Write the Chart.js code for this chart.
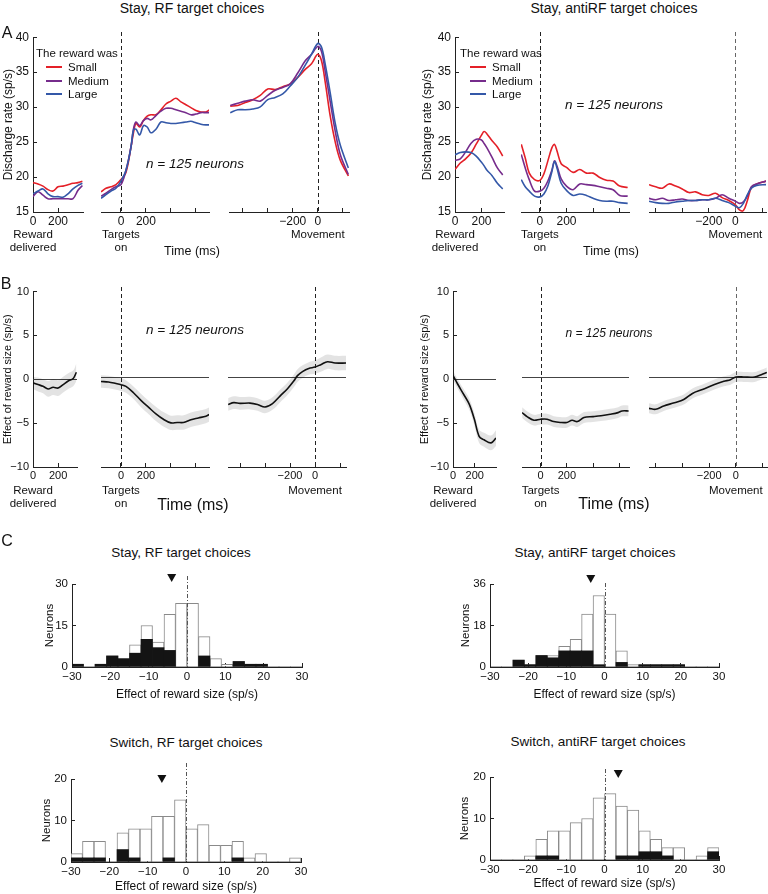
<!DOCTYPE html>
<html>
<head>
<meta charset="utf-8">
<script src="https://cdn.jsdelivr.net/npm/chart.js@4.4.1/dist/chart.umd.min.js"></script>
<style>
html, body { margin: 0; overflow: hidden; }
body { width: 768px; height: 894px; position: relative; background: #fff; font-family: "Liberation Sans", Arial, sans-serif; }
canvas { position: absolute; }
.t { position: absolute; white-space: nowrap; color: #111; text-align: center; }
.leg { position: absolute; width: 16px; height: 0; border-top: 2px solid; }
</style>
</head>
<body>
<script>
// ---- A: discharge rate, three reward sizes ----
var aL_t1 = [0, 40, 80, 120, 160, 200, 240, 280, 320, 360, 395];
var aL_small1 = [19.2, 19.0, 18.7, 18.2, 18.0, 18.6, 18.7, 18.9, 19.1, 19.2, 19.4];
var aL_medium1 = [17.2, 17.9, 17.4, 16.9, 16.9, 16.9, 16.9, 16.9, 16.9, 18.1, 18.8];
var aL_large1 = [17.6, 18.0, 18.3, 17.6, 17.2, 17.2, 17.1, 17.6, 18.3, 18.8, 19.1];

var aL_t2 = [-160, -120, -80, -40, 0, 40, 80, 100, 120, 150, 180, 210, 240, 280, 320, 360, 400, 440, 480, 520, 560, 600, 640, 680, 710];
var aL_small2 = [17.8, 18.3, 18.5, 18.8, 19.5, 20.5, 24.0, 26.0, 27.3, 26.8, 27.7, 28.3, 28.5, 28.5, 29.2, 30.0, 30.4, 30.8, 30.3, 29.9, 29.5, 29.1, 28.9, 28.9, 29.2];
var aL_medium2 = [17.2, 17.6, 18.1, 18.5, 18.8, 20.8, 24.0, 26.5, 27.5, 27.0, 27.7, 28.0, 27.8, 28.4, 29.0, 29.4, 29.4, 29.2, 29.0, 28.8, 28.5, 28.6, 28.8, 28.8, 28.8];
var aL_large2 = [16.9, 17.4, 17.9, 18.3, 19.3, 20.8, 24.0, 26.4, 26.5, 25.7, 27.0, 26.8, 26.0, 26.5, 27.5, 27.4, 27.3, 27.3, 27.4, 27.5, 27.6, 27.4, 27.2, 27.1, 27.1];

var aL_t3 = [-700, -640, -580, -520, -460, -400, -340, -280, -220, -160, -100, -50, 0, 30, 60, 100, 140, 180, 245];
var aL_small3 = [29.7, 29.8, 30.2, 30.6, 31.2, 32.1, 32.0, 32.4, 32.8, 33.7, 34.8, 35.6, 36.9, 36.0, 33.0, 28.3, 24.7, 22.2, 20.0];
var aL_medium3 = [29.8, 30.1, 30.4, 30.6, 30.4, 31.2, 31.9, 32.3, 32.8, 34.3, 36.0, 36.9, 38.0, 37.3, 34.5, 30.3, 26.2, 23.0, 20.2];
var aL_large3 = [28.8, 29.2, 29.2, 29.3, 29.6, 30.6, 30.9, 31.4, 32.5, 33.7, 35.4, 36.9, 38.4, 37.9, 35.5, 31.5, 27.3, 24.3, 21.1];

var aR_t1 = [0, 40, 80, 120, 160, 200, 220, 240, 280, 320, 360];
var aR_small1 = [21.1, 22.0, 22.6, 23.4, 24.7, 26.0, 26.5, 26.2, 25.2, 24.3, 23.0];
var aR_medium1 = [22.4, 22.6, 23.6, 24.8, 25.4, 25.3, 24.8, 24.2, 22.8, 21.3, 20.3];
var aR_large1 = [23.2, 23.5, 23.6, 23.5, 23.0, 22.1, 21.6, 21.0, 20.2, 19.1, 18.3];

var aR_t2 = [-140, -110, -80, -40, 0, 30, 60, 90, 110, 130, 160, 200, 250, 300, 350, 400, 450, 500, 550, 600, 660];
var aR_small2 = [24.4, 22.5, 20.4, 19.5, 19.4, 20.3, 22.1, 23.9, 24.4, 23.4, 21.7, 21.2, 20.5, 20.9, 20.4, 20.4, 19.8, 19.4, 19.3, 18.6, 18.4];
var aR_medium2 = [23.0, 21.1, 19.5, 17.9, 17.9, 18.3, 19.3, 20.8, 22.1, 21.3, 19.6, 18.6, 18.1, 18.9, 18.8, 18.7, 18.5, 18.3, 18.1, 17.3, 17.2];
var aR_large2 = [19.5, 18.5, 17.9, 17.2, 17.1, 17.5, 18.6, 20.6, 22.0, 21.0, 19.0, 18.0, 17.3, 17.5, 17.3, 16.9, 16.6, 16.5, 16.5, 16.3, 16.2];

var aR_t3 = [-650, -600, -550, -500, -450, -400, -350, -300, -250, -200, -150, -100, -50, 0, 30, 60, 90, 120, 160, 230];
var aR_small3 = [18.8, 18.5, 18.3, 18.9, 18.6, 18.2, 17.7, 17.8, 17.4, 17.3, 17.6, 17.0, 16.6, 16.0, 15.3, 15.2, 16.6, 18.4, 18.9, 19.3];
var aR_medium3 = [16.9, 16.7, 16.9, 16.6, 16.7, 16.8, 16.6, 16.6, 16.7, 16.7, 16.9, 17.4, 16.9, 16.5, 16.2, 16.4, 17.2, 18.5, 18.9, 19.3];
var aR_large3 = [16.5, 16.3, 16.2, 16.2, 16.4, 16.5, 16.6, 16.6, 16.7, 16.7, 16.9, 16.6, 16.3, 15.8, 15.6, 16.2, 17.4, 18.3, 18.7, 18.8];

// ---- B: effect of reward size, mean and sem ----
var bL_t1 = [0, 40, 80, 120, 160, 200, 240, 280, 320, 345];
var bL_mean1 = [-0.4, -0.6, -0.8, -1.1, -0.9, -1.0, -0.6, -0.2, 0.1, 0.8];
var bL_sem1 = [0.7, 0.8, 0.8, 0.9, 0.9, 0.9, 0.9, 0.9, 0.9, 1.0];

var bL_t2 = [-160, -100, -40, 0, 40, 100, 160, 220, 280, 340, 400, 450, 500, 560, 620, 680, 710];
var bL_mean2 = [-0.5, -0.55, -0.72, -0.85, -1.05, -1.75, -2.6, -3.35, -4.1, -4.7, -5.1, -5.05, -5.05, -4.75, -4.55, -4.35, -4.15];
var bL_sem2 = [0.7, 0.7, 0.7, 0.7, 0.7, 0.7, 0.75, 0.75, 0.8, 0.8, 0.8, 0.8, 0.8, 0.8, 0.8, 0.8, 0.8];

var bL_t3 = [-695, -650, -600, -520, -460, -400, -340, -280, -220, -170, -140, -100, -50, 0, 50, 100, 160, 250];
var bL_mean3 = [-3.05, -2.85, -2.93, -2.9, -3.05, -3.33, -2.95, -2.12, -1.3, -0.45, 0.15, 0.6, 0.95, 1.1, 1.4, 1.7, 1.55, 1.55];
var bL_sem3 = [0.7, 0.7, 0.7, 0.7, 0.7, 0.7, 0.7, 0.7, 0.7, 0.7, 0.7, 0.7, 0.7, 0.75, 0.8, 0.8, 0.8, 0.8];

var bR_t1 = [0, 40, 100, 150, 195, 240, 285, 350, 395];
var bR_mean1 = [0.44, -0.48, -1.76, -2.86, -4.5, -6.5, -6.9, -7.25, -6.7];
var bR_sem1 = [0.5, 0.55, 0.6, 0.65, 0.7, 0.75, 0.8, 0.85, 0.9];

var bR_t2 = [-140, -100, -50, 0, 50, 100, 150, 200, 240, 280, 330, 400, 460, 530, 590, 620, 670];
var bR_mean2 = [-3.96, -4.43, -4.8, -4.69, -4.69, -4.95, -5.05, -5.05, -4.8, -4.95, -4.5, -4.4, -4.3, -4.14, -3.96, -3.77, -3.77];
var bR_sem2 = [0.6, 0.6, 0.6, 0.6, 0.6, 0.6, 0.6, 0.6, 0.6, 0.6, 0.6, 0.6, 0.6, 0.6, 0.6, 0.6, 0.6];

var bR_t3 = [-650, -600, -540, -460, -390, -325, -250, -160, -90, -40, 0, 60, 140, 190, 232];
var bR_mean3 = [-3.48, -3.59, -3.22, -2.86, -2.5, -1.83, -1.39, -0.84, -0.48, -0.3, 0, 0, 0, 0.26, 0.51];
var bR_sem3 = [0.55, 0.55, 0.55, 0.55, 0.55, 0.55, 0.55, 0.55, 0.55, 0.55, 0.55, 0.55, 0.55, 0.55, 0.55];

// ---- C: histograms (bins 3 sp/s wide) ----
var binCenters = [-28.5, -25.5, -22.5, -19.5, -16.5, -13.5, -10.5, -7.5, -4.5, -1.5, 1.5, 4.5, 7.5, 10.5, 13.5, 16.5, 19.5, 22.5, 25.5, 28.5];
var stayRF_all = [1, 0, 1, 4, 3, 8, 15, 9, 19, 23, 23, 11, 3, 1, 2, 1, 1, 0, 0, 0];
var stayRF_sig = [1, 0, 1, 4, 3, 5, 10, 7, 6, 0, 0, 4, 0, 0, 2, 1, 1, 0, 0, 0];
var stayAnti_all = [0, 0, 3, 1, 5, 5, 9, 12, 23, 31, 23, 7, 1, 1, 1, 1, 1, 0, 0, 0];
var stayAnti_sig = [0, 0, 3, 1, 5, 4, 7, 7, 7, 1, 0, 2, 0, 1, 1, 1, 1, 0, 0, 0];
var switchRF_all = [2, 5, 5, 0, 7, 8, 8, 11, 11, 15, 8, 9, 4, 4, 5, 1, 2, 0, 0, 1];
var switchRF_sig = [1, 1, 1, 0, 3, 1, 0, 0, 1, 0, 0, 0, 0, 0, 1, 0, 0, 0, 0, 0];
var switchAnti_all = [0, 0, 0, 1, 5, 7, 7, 9, 10, 15, 16, 13, 12, 7, 5, 3, 3, 0, 1, 3];
var switchAnti_sig = [0, 0, 0, 0, 1, 1, 0, 0, 0, 0, 0, 1, 1, 2, 2, 1, 0, 0, 0, 2];
var histMeans = [-4, -3.6, -6.3, 3.6];

var yTicksA = [15, 20, 25, 30, 35, 40];
var yTicksB = [-10, -5, 0, 5, 10];
var xTicksHist = [-30, -20, -10, 0, 10, 20, 30];

var colSmall = 'rgb(228,32,40)', colMedium = 'rgb(118,44,140)', colLarge = 'rgb(52,88,168)';
var FONT = '"Liberation Sans", Arial, sans-serif';
Chart.defaults.font.family = FONT;
Chart.defaults.color = '#111';

function fmt(v) { return v < 0 ? '\u2212' + Math.abs(v) : String(v); }
function pts(t, v) { return t.map(function (x, i) { return { x: x, y: v[i] }; }); }

function addText(html, x, y, size, opts) {
  opts = opts || {};
  var d = document.createElement('div');
  d.className = 't';
  d.innerHTML = html;
  d.style.fontSize = size + 'px';
  d.style.lineHeight = (opts.lh || Math.round(size * 1.15)) + 'px';
  d.style.left = x + 'px';
  d.style.top = y + 'px';
  d.style.transform = opts.left ? 'translate(0,-50%)' : 'translate(-50%,-50%)';
  if (opts.left) d.style.textAlign = 'left';
  if (opts.italic) d.style.fontStyle = 'italic';
  document.body.appendChild(d);
}

function lineSets(t, small, medium, large) {
  function mk(v, c) { return { data: pts(t, v), borderColor: c, borderWidth: 1.6, fill: false }; }
  return [mk(large, colLarge), mk(medium, colMedium), mk(small, colSmall)];
}

function bandSets(t, mean, sem) {
  return [
    { data: pts(t, mean), borderColor: '#111', borderWidth: 1.6, fill: false },
    { data: t.map(function (x, i) { return { x: x, y: mean[i] + sem[i] }; }), borderWidth: 0, borderColor: 'rgba(0,0,0,0)', backgroundColor: 'rgba(0,0,0,0.11)', fill: '+1' },
    { data: t.map(function (x, i) { return { x: x, y: mean[i] - sem[i] }; }), borderWidth: 0, borderColor: 'rgba(0,0,0,0)', fill: false }
  ];
}

function refLines(p, s) {
  return {
    id: 'refLines',
    beforeDatasetsDraw: function (ch) {
      var a = ch.chartArea, ctx = ch.ctx;
      ctx.save();
      ctx.lineWidth = 1;
      if (p.zero) {
        var y0 = Math.round(ch.scales.y.getPixelForValue(0)) + 0.5;
        ctx.strokeStyle = '#444';
        ctx.beginPath(); ctx.moveTo(a.left, y0); ctx.lineTo(a.right, y0); ctx.stroke();
      }
      if (s.dash) {
        var x0 = Math.round(ch.scales.x.getPixelForValue(0)) + 0.5;
        ctx.strokeStyle = s.dashColor || '#222';
        ctx.setLineDash([4, 3]);
        ctx.beginPath(); ctx.moveTo(x0, a.top); ctx.lineTo(x0, a.bottom); ctx.stroke();
      }
      ctx.restore();
    }
  };
}

function segment(p, s, idx) {
  var hasY = idx === 0;
  var yw = hasY ? p.yw : 0;
  var padT = 10, padR = 14, xh = 18;
  var c = document.createElement('canvas');
  c.width = Math.round(yw + s.r - s.l + padR);
  c.height = padT + (p.b - p.t) + xh;
  c.style.left = (s.l - yw) + 'px';
  c.style.top = (p.t - padT) + 'px';
  document.body.appendChild(c);
  var chart = new Chart(c, {
    type: 'line',
    data: { datasets: s.datasets },
    options: {
      responsive: false,
      animation: false,
      layout: { autoPadding: false, padding: { top: padT, right: padR, left: 0, bottom: 0 } },
      plugins: { legend: { display: false }, tooltip: { enabled: false } },
      elements: { point: { radius: 0 }, line: { tension: 0.35 } },
      scales: {
        x: {
          type: 'linear', min: s.min, max: s.max,
          afterBuildTicks: function (sc) { sc.ticks = s.ticks.map(function (v) { return { value: v }; }); },
          afterFit: function (sc) { sc.height = xh; },
          grid: { drawOnChartArea: false, tickLength: -4, color: '#222' },
          border: { color: '#222', width: 1 },
          ticks: {
            autoSkip: false, maxRotation: 0, padding: p.xPad, font: { size: p.tickSize }, color: '#111',
            callback: function (v) { return s.shown.indexOf(v) >= 0 ? fmt(v) : ''; }
          }
        },
        y: {
          display: hasY, min: p.ymin, max: p.ymax,
          afterBuildTicks: function (sc) { sc.ticks = p.yticks.map(function (v) { return { value: v }; }); },
          afterFit: function (sc) { sc.width = yw; },
          grid: { drawOnChartArea: false, tickLength: -4, color: '#222' },
          border: { color: '#222', width: 1 },
          ticks: { padding: 8, font: { size: p.tickSize }, color: '#111', callback: fmt },
          title: { display: true, text: p.ytitle, font: { size: p.titleSize }, color: '#111', padding: { top: 1, bottom: 0 } }
        }
      }
    },
    plugins: [refLines(p, s)]
  });
  return { chart: chart, left: s.l - yw };
}

function panel(p) {
  var zeroX = p.segs.map(function (s, i) {
    var r = segment(p, s, i);
    return r.left + r.chart.scales.x.getPixelForValue(0);
  });
  addText('Reward<br>delivered', zeroX[0], p.b + p.lab1, p.labSize, { lh: 13 });
  addText('Targets<br>on', zeroX[1], p.b + p.lab1, p.labSize, { lh: 13 });
  addText('Movement', zeroX[2], p.b + p.lab2, p.labSize);
  addText('Time (ms)', p.timeX, p.b + p.timeDy, p.timeSize);
}

var bins = binCenters;
function hist(h) {
  var padT = 22, padR = 14;
  var c = document.createElement('canvas');
  c.width = Math.round(h.yw + h.r - h.l + padR);
  c.height = Math.round(padT + (h.b - h.t) + h.xh);
  c.style.left = (h.l - h.yw) + 'px';
  c.style.top = (h.t - padT) + 'px';
  document.body.appendChild(c);
  var marks = {
    id: 'marks',
    afterDatasetsDraw: function (ch) {
      var a = ch.chartArea, ctx = ch.ctx;
      var x0 = Math.round(ch.scales.x.getPixelForValue(0)) + 0.5;
      ctx.save();
      ctx.strokeStyle = '#555';
      ctx.lineWidth = 1;
      ctx.setLineDash([4, 2, 1, 2]);
      ctx.beginPath(); ctx.moveTo(x0, a.top - h.dashUp); ctx.lineTo(x0, a.bottom); ctx.stroke();
      var xm = ch.scales.x.getPixelForValue(h.mean), ym = a.top - h.triUp;
      ctx.fillStyle = '#111';
      ctx.beginPath(); ctx.moveTo(xm - 4.5, ym - 4); ctx.lineTo(xm + 4.5, ym - 4); ctx.lineTo(xm, ym + 4); ctx.closePath(); ctx.fill();
      ctx.restore();
    }
  };
  new Chart(c, {
    type: 'bar',
    data: {
      datasets: [
        { data: pts(bins, h.sig), backgroundColor: '#141414', borderWidth: 0, grouped: false, barPercentage: 1, categoryPercentage: 1 },
        { data: pts(bins, h.all), backgroundColor: '#fff', borderColor: '#8a8a8a', borderWidth: 1, grouped: false, barPercentage: 1, categoryPercentage: 1 }
      ]
    },
    options: {
      responsive: false,
      animation: false,
      layout: { autoPadding: false, padding: { top: padT, right: padR, left: 0, bottom: 0 } },
      plugins: { legend: { display: false }, tooltip: { enabled: false } },
      scales: {
        x: {
          type: 'linear', min: -30, max: 30, offset: false,
          afterBuildTicks: function (sc) { sc.ticks = xTicksHist.map(function (v) { return { value: v }; }); },
          afterFit: function (sc) { sc.height = h.xh; },
          grid: { offset: false, drawOnChartArea: false, tickLength: -4, color: '#222' },
          border: { color: '#222', width: 1 },
          ticks: { autoSkip: false, maxRotation: 0, padding: 7, font: { size: 11.5 }, color: '#111', callback: fmt },
          title: { display: true, text: 'Effect of reward size (sp/s)', font: { size: 12 }, color: '#111', padding: { top: 0, bottom: 1 } }
        },
        y: {
          min: 0, max: h.ymax,
          afterBuildTicks: function (sc) { sc.ticks = h.yticks.map(function (v) { return { value: v }; }); },
          afterFit: function (sc) { sc.width = h.yw; },
          grid: { drawOnChartArea: false, tickLength: -4, color: '#222' },
          border: { color: '#222', width: 1 },
          ticks: { padding: 8, font: { size: 11.5 }, color: '#111', callback: fmt },
          title: { display: true, text: 'Neurons', font: { size: 11.5 }, color: '#111', padding: { top: 1, bottom: 0 } }
        }
      }
    },
    plugins: [marks]
  });
  addText(h.title, h.titleX, h.titleY, 13.5);
}

// ---- panel A ----
panel({
  t: 32, b: 212, ymin: 15, ymax: 40, yticks: yTicksA, yw: 33, ytitle: 'Discharge rate (sp/s)',
  tickSize: 12, titleSize: 12, xPad: 6, labSize: 11.5, lab1: 29, lab2: 22, timeX: 192, timeDy: 38.5, timeSize: 12.5,
  segs: [
    { l: 33, r: 83, min: 0, max: 400, ticks: [0, 200], shown: [0, 200], datasets: lineSets(aL_t1, aL_small1, aL_medium1, aL_large1) },
    { l: 101, r: 209, min: -160, max: 705, ticks: [0, 200, 400, 600], shown: [0, 200], dash: true, datasets: lineSets(aL_t2, aL_small2, aL_medium2, aL_large2) },
    { l: 229, r: 349, min: -710, max: 250, ticks: [-600, -400, -200, 0, 200], shown: [-200, 0], dash: true, datasets: lineSets(aL_t3, aL_small3, aL_medium3, aL_large3) }
  ]
});
panel({
  t: 32, b: 212, ymin: 15, ymax: 40, yticks: yTicksA, yw: 36, ytitle: 'Discharge rate (sp/s)',
  tickSize: 12, titleSize: 12, xPad: 6, labSize: 11.5, lab1: 29, lab2: 22, timeX: 611, timeDy: 38.5, timeSize: 12.5,
  segs: [
    { l: 455, r: 504, min: 0, max: 370, ticks: [0, 200], shown: [0, 200], datasets: lineSets(aR_t1, aR_small1, aR_medium1, aR_large1) },
    { l: 521, r: 629, min: -142, max: 670, ticks: [0, 200, 400, 600], shown: [0, 200], dash: true, datasets: lineSets(aR_t2, aR_small2, aR_medium2, aR_large2) },
    { l: 649, r: 766, min: -650, max: 230, ticks: [-600, -400, -200, 0, 200], shown: [-200, 0], dash: true, dashColor: '#666', datasets: lineSets(aR_t3, aR_small3, aR_medium3, aR_large3) }
  ]
});

// ---- panel B ----
panel({
  t: 287, b: 467, ymin: -10, ymax: 10, yticks: yTicksB, yw: 33, ytitle: 'Effect of reward size (sp/s)', zero: true,
  tickSize: 11, titleSize: 11, xPad: 6.5, labSize: 11.5, lab1: 29.5, lab2: 23, timeX: 193, timeDy: 38, timeSize: 16,
  segs: [
    { l: 33, r: 77, min: 0, max: 350, ticks: [0, 200], shown: [0, 200], datasets: bandSets(bL_t1, bL_mean1, bL_sem1) },
    { l: 101, r: 209, min: -160, max: 705, ticks: [0, 200, 400, 600], shown: [0, 200], dash: true, datasets: bandSets(bL_t2, bL_mean2, bL_sem2) },
    { l: 228, r: 346, min: -696, max: 248, ticks: [-600, -400, -200, 0, 200], shown: [-200, 0], dash: true, datasets: bandSets(bL_t3, bL_mean3, bL_sem3) }
  ]
});
panel({
  t: 287, b: 467, ymin: -10, ymax: 10, yticks: yTicksB, yw: 36, ytitle: 'Effect of reward size (sp/s)', zero: true,
  tickSize: 11, titleSize: 11, xPad: 6.5, labSize: 11.5, lab1: 29.5, lab2: 23, timeX: 614, timeDy: 37, timeSize: 16,
  segs: [
    { l: 453, r: 496, min: 0, max: 395, ticks: [0, 200], shown: [0, 200], datasets: bandSets(bR_t1, bR_mean1, bR_sem1) },
    { l: 522, r: 629, min: -141, max: 673, ticks: [0, 200, 400, 600], shown: [0, 200], dash: true, datasets: bandSets(bR_t2, bR_mean2, bR_sem2) },
    { l: 649, r: 767, min: -650, max: 233, ticks: [-600, -400, -200, 0, 200], shown: [-200, 0], dash: true, dashColor: '#666', datasets: bandSets(bR_t3, bR_mean3, bR_sem3) }
  ]
});

// ---- panel C ----
hist({ l: 72, r: 302, t: 584, b: 667, yw: 30, xh: 36, ymax: 30, yticks: [0, 15, 30], all: stayRF_all, sig: stayRF_sig, mean: histMeans[0], triUp: 6, dashUp: 8, title: 'Stay, RF target choices', titleX: 181, titleY: 553 });
hist({ l: 490, r: 719, t: 584, b: 667, yw: 32, xh: 36, ymax: 36, yticks: [0, 18, 36], all: stayAnti_all, sig: stayAnti_sig, mean: histMeans[1], triUp: 5, dashUp: 1, title: 'Stay, antiRF target choices', titleX: 595, titleY: 553 });
hist({ l: 71, r: 301, t: 779, b: 862, yw: 32, xh: 33, ymax: 20, yticks: [0, 10, 20], all: switchRF_all, sig: switchRF_sig, mean: histMeans[2], triUp: 0, dashUp: 16, title: 'Switch, RF target choices', titleX: 186, titleY: 743 });
hist({ l: 490, r: 719, t: 777, b: 860, yw: 33, xh: 32, ymax: 20, yticks: [0, 10, 20], all: switchAnti_all, sig: switchAnti_sig, mean: histMeans[3], triUp: 3, dashUp: 8, title: 'Switch, antiRF target choices', titleX: 598, titleY: 742 });

// ---- titles, legends, notes ----
addText('Stay, RF target choices', 192, 8, 14);
addText('Stay, antiRF target choices', 614, 8, 14);
addText('A', 7, 33, 16);
addText('B', 6, 284, 16);
addText('C', 7, 541, 16);

function legend(x, y) {
  addText('The reward was', x, y, 11.5, { left: true });
  var names = ['Small', 'Medium', 'Large'], cols = [colSmall, colMedium, colLarge];
  for (var i = 0; i < 3; i++) {
    var ly = y + 14 + i * 13.5;
    var d = document.createElement('div');
    d.className = 'leg';
    d.style.left = (x + 10) + 'px';
    d.style.top = (ly - 1) + 'px';
    d.style.borderTopColor = cols[i];
    document.body.appendChild(d);
    addText(names[i], x + 32, ly, 11.5, { left: true });
  }
}
legend(36, 53);
legend(460, 53);

addText('<i>n</i> = 125 neurons', 195, 164, 13.5, { italic: true });
addText('<i>n</i> = 125 neurons', 614, 105, 13.5, { italic: true });
addText('<i>n</i> = 125 neurons', 195, 330, 13.5, { italic: true });
addText('<i>n</i> = 125 neurons', 609, 333, 12, { italic: true });
</script>
</body>
</html>
